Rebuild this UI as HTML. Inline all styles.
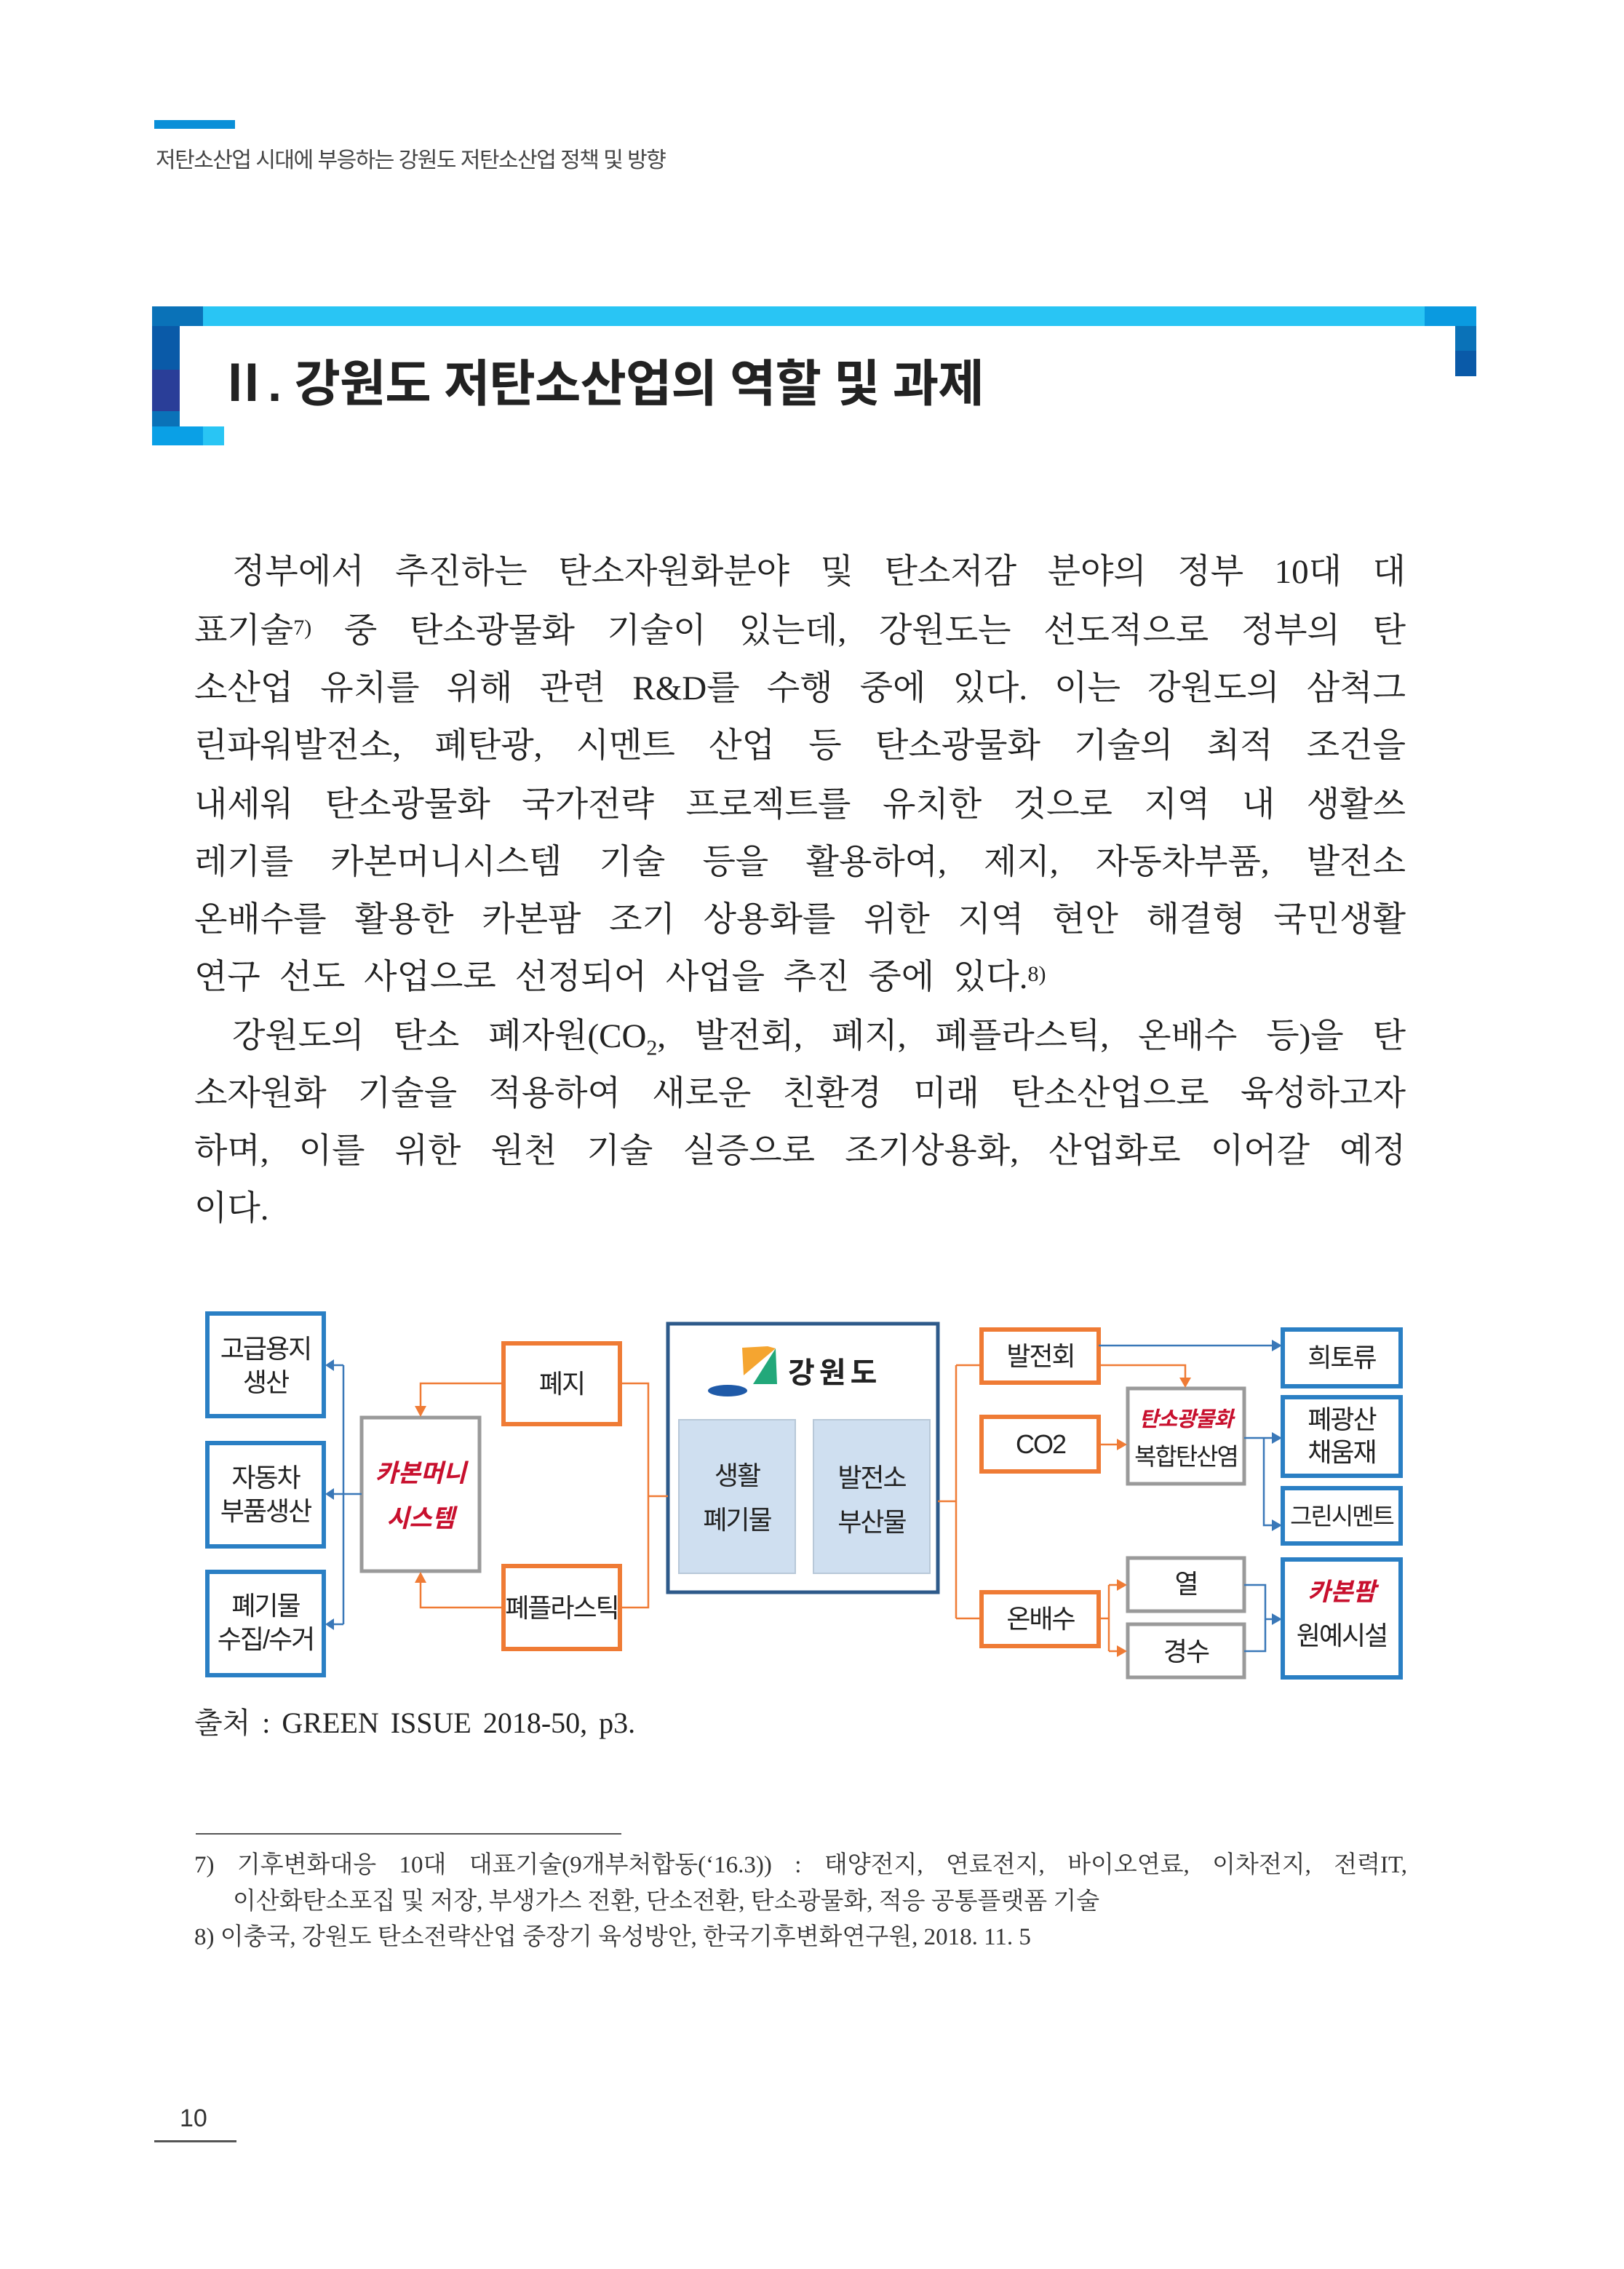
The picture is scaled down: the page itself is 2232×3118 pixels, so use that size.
<!DOCTYPE html>
<html><head><meta charset="utf-8">
<style>
html,body{margin:0;padding:0;background:#fff;}
body{width:2232px;height:3118px;position:relative;overflow:hidden;}
.a{position:absolute;white-space:nowrap;}
.body{font-family:"Liberation Serif","Noto Serif CJK KR","Noto Serif CJK SC",serif;font-size:47px;color:#222;line-height:60px;height:60px;}
.j{left:267px;width:1665px;text-align:justify;text-align-last:justify;}
.sup{font-size:30px;position:relative;top:-10px;line-height:0;}
.fn{font-family:"Liberation Serif","Noto Serif CJK KR","Noto Serif CJK SC",serif;font-size:33px;color:#333;line-height:44px;}
</style></head><body>

<div class="a" style="left:212px;top:165px;width:111px;height:12px;background:#0a8fd8"></div>
<div class="a" style="left:214px;top:195px;font-family:'Liberation Sans','Noto Sans CJK KR',sans-serif;font-size:30px;color:#444;letter-spacing:-1.5px">저탄소산업 시대에 부응하는 강원도 저탄소산업 정책 및 방향</div>

<!-- title frame -->
<div class="a" style="left:209px;top:421px;width:1820px;height:27px;background:#29c5f4"></div>
<div class="a" style="left:209px;top:421px;width:70px;height:27px;background:#0a72b8"></div>
<div class="a" style="left:1958px;top:421px;width:71px;height:27px;background:#0a9ae0"></div>
<div class="a" style="left:209px;top:448px;width:38px;height:60px;background:#0a5aa8"></div>
<div class="a" style="left:209px;top:508px;width:38px;height:57px;background:#2a3e98"></div>
<div class="a" style="left:209px;top:565px;width:38px;height:47px;background:#0a72b8"></div>
<div class="a" style="left:209px;top:586px;width:99px;height:26px;background:#0aa0e6"></div>
<div class="a" style="left:279px;top:586px;width:29px;height:26px;background:#29c5f4"></div>
<div class="a" style="left:2000px;top:448px;width:29px;height:34px;background:#0a72b8"></div>
<div class="a" style="left:2000px;top:482px;width:29px;height:35px;background:#0a5aa8"></div>
<div class="a" style="left:300px;top:471px;font-family:'Liberation Sans','Noto Sans CJK KR',sans-serif;font-weight:bold;font-size:69px;color:#222;letter-spacing:-1px">Ⅱ. 강원도 저탄소산업의 역할 및 과제</div>

<!-- body text -->
<div class="a body" style="left:319px;width:1613px;top:756px;text-align:justify;text-align-last:justify">정부에서 추진하는 탄소자원화분야 및 탄소저감 분야의 정부 10대 대</div>
<div class="a body j" style="top:837px">표기술<span class="sup">7)</span> 중 탄소광물화 기술이 있는데, 강원도는 선도적으로 정부의 탄</div>
<div class="a body j" style="top:916px">소산업 유치를 위해 관련 R&amp;D를 수행 중에 있다. 이는 강원도의 삼척그</div>
<div class="a body j" style="top:995px">린파워발전소, 폐탄광, 시멘트 산업 등 탄소광물화 기술의 최적 조건을</div>
<div class="a body j" style="top:1076px">내세워 탄소광물화 국가전략 프로젝트를 유치한 것으로 지역 내 생활쓰</div>
<div class="a body j" style="top:1155px">레기를 카본머니시스템 기술 등을 활용하여, 제지, 자동차부품, 발전소</div>
<div class="a body j" style="top:1234px">온배수를 활용한 카본팜 조기 상용화를 위한 지역 현안 해결형 국민생활</div>
<div class="a body" style="left:267px;top:1313px;word-spacing:14px">연구 선도 사업으로 선정되어 사업을 추진 중에 있다.<span class="sup">8)</span></div>
<div class="a body" style="left:319px;width:1613px;top:1394px;text-align:justify;text-align-last:justify">강원도의 탄소 폐자원(CO<sub style="font-size:30px;line-height:0">2</sub>, 발전회, 폐지, 폐플라스틱, 온배수 등)을 탄</div>
<div class="a body j" style="top:1473px">소자원화 기술을 적용하여 새로운 친환경 미래 탄소산업으로 육성하고자</div>
<div class="a body j" style="top:1552px">하며, 이를 위한 원천 기술 실증으로 조기상용화, 산업화로 이어갈 예정</div>
<div class="a body" style="left:267px;top:1631px">이다.</div>

<!-- diagram -->
<svg class="a" style="left:0;top:0" width="2232" height="3118" viewBox="0 0 2232 3118" font-family="Liberation Sans, Noto Sans CJK KR, sans-serif">
<g fill="none" stroke-width="6">
 <rect x="285" y="1805" width="160" height="141" stroke="#2a7fc4"/>
 <rect x="285" y="1983" width="160" height="142" stroke="#2a7fc4"/>
 <rect x="285" y="2160" width="160" height="142" stroke="#2a7fc4"/>
 <rect x="497" y="1948" width="162" height="211" stroke="#9a9a9a" stroke-width="5"/>
 <rect x="692" y="1846" width="160" height="111" stroke="#ef7b35"/>
 <rect x="692" y="2152" width="160" height="114" stroke="#ef7b35"/>
 <rect x="918" y="1819" width="371" height="369" stroke="#2e5a8a" stroke-width="5"/>
 <rect x="1349" y="1827" width="161" height="73" stroke="#ef7b35"/>
 <rect x="1349" y="1947" width="161" height="75" stroke="#ef7b35"/>
 <rect x="1349" y="2188" width="161" height="74" stroke="#ef7b35"/>
 <rect x="1550" y="1908" width="160" height="131" stroke="#9a9a9a" stroke-width="5"/>
 <rect x="1550" y="2141" width="160" height="73" stroke="#9a9a9a" stroke-width="5"/>
 <rect x="1550" y="2232" width="160" height="73" stroke="#9a9a9a" stroke-width="5"/>
 <rect x="1763" y="1827" width="162" height="78" stroke="#2a7fc4"/>
 <rect x="1763" y="1920" width="162" height="108" stroke="#2a7fc4"/>
 <rect x="1763" y="2045" width="162" height="76" stroke="#2a7fc4"/>
 <rect x="1763" y="2143" width="162" height="162" stroke="#2a7fc4"/>
</g>
<rect x="933" y="1951" width="160" height="211" fill="#cfdff0" stroke="#b8c8d8" stroke-width="2"/>
<rect x="1118" y="1951" width="160" height="211" fill="#cfdff0" stroke="#b8c8d8" stroke-width="2"/>
<g fill="none" stroke-width="2.5">
 <path d="M497 2053 H472 M472 1876 V2232 M472 1876 H455 M472 2053 H455 M472 2232 H455" stroke="#3a78b8"/>
 <path d="M692 1901 H578 V1935 M692 2209 H578 V2172" stroke="#ef7b35"/>
 <path d="M852 1901 H891 V2209 H852 M891 2056 H918" stroke="#ef7b35"/>
 <path d="M1289 2063 H1314 M1314 1876 V2224 M1314 1876 H1349 M1314 2224 H1349" stroke="#ef7b35"/>
 <path d="M1510 1849 H1750" stroke="#3a78b8"/>
 <path d="M1510 1876 H1629 V1895" stroke="#ef7b35"/>
 <path d="M1510 1985 H1537" stroke="#ef7b35"/>
 <path d="M1710 1976 H1750 M1737 1976 V2096 H1750" stroke="#3a78b8"/>
 <path d="M1510 2224 H1524 M1524 2178 V2269 M1524 2178 H1537 M1524 2269 H1537" stroke="#ef7b35"/>
 <path d="M1710 2178 H1739 V2269 H1710 M1739 2225 H1750" stroke="#3a78b8"/>
</g>
<g fill="#3a78b8">
 <polygon points="447,1876 459,1868 459,1884"/>
 <polygon points="447,2053 459,2045 459,2061"/>
 <polygon points="447,2232 459,2224 459,2240"/>
 <polygon points="1762,1849 1748,1841 1748,1857"/>
 <polygon points="1762,1976 1748,1968 1748,1984"/>
 <polygon points="1762,2096 1748,2088 1748,2104"/>
 <polygon points="1762,2225 1748,2217 1748,2233"/>
</g>
<g fill="#ef7b35">
 <polygon points="578,1947 570,1932 586,1932"/>
 <polygon points="578,2160 570,2175 586,2175"/>
 <polygon points="1629,1907 1621,1893 1637,1893"/>
 <polygon points="1549,1985 1535,1977 1535,1993"/>
 <polygon points="1549,2178 1535,2170 1535,2186"/>
 <polygon points="1549,2269 1535,2261 1535,2277"/>
</g>
<ellipse cx="1000" cy="1911" rx="27" ry="8" fill="#1f5aa8"/>
<polygon points="1020,1852 1055,1850 1066,1853 1022,1890" fill="#f5a530"/>
<polygon points="1066,1853 1068,1902 1035,1902" fill="#22a87a"/>
<text x="1083" y="1900" font-size="40" font-weight="bold" fill="#222" letter-spacing="6">강원도</text>
<g font-size="36" fill="#222" text-anchor="middle" letter-spacing="-2">
 <text x="365" y="1866">고급용지</text><text x="365" y="1912">생산</text>
 <text x="365" y="2043">자동차</text><text x="365" y="2089">부품생산</text>
 <text x="365" y="2219">폐기물</text><text x="365" y="2265">수집/수거</text>
 <text x="772" y="1914">폐지</text>
 <text x="772" y="2222">폐플라스틱</text>
 <text x="1013" y="2040">생활</text><text x="1013" y="2101">폐기물</text>
 <text x="1198" y="2043">발전소</text><text x="1198" y="2104">부산물</text>
 <text x="1430" y="1876">발전회</text>
 <text x="1430" y="1997">CO2</text>
 <text x="1430" y="2237">온배수</text>
 <text x="1630" y="2013" font-size="33">복합탄산염</text>
 <text x="1630" y="2189">열</text>
 <text x="1630" y="2282">경수</text>
 <text x="1844" y="1878">희토류</text>
 <text x="1844" y="1963">폐광산</text><text x="1844" y="2008">채움재</text>
 <text x="1844" y="2095" font-size="33">그린시멘트</text>
 <text x="1844" y="2260">원예시설</text>
</g>
<g font-size="34" fill="#c8102e" text-anchor="middle" font-style="italic" font-weight="bold">
 <text x="578" y="2036">카본머니</text><text x="578" y="2098">시스템</text>
 <text x="1630" y="1960" font-size="29" letter-spacing="-1">탄소광물화</text>
 <text x="1844" y="2199">카본팜</text>
</g>
</svg>

<div class="a" style="left:267px;top:2336px;font-family:'Liberation Serif','Noto Serif CJK KR',serif;font-size:40px;color:#222;word-spacing:6px">출처 : GREEN ISSUE 2018-50, p3.</div>

<div class="a" style="left:269px;top:2519px;width:585px;height:2px;background:#555"></div>
<div class="a fn" style="left:267px;top:2541px;width:1667px;text-align:justify;text-align-last:justify">7) 기후변화대응 10대 대표기술(9개부처합동(‘16.3)) : 태양전지, 연료전지, 바이오연료, 이차전지, 전력IT,</div>
<div class="a fn" style="left:320px;top:2591px">이산화탄소포집 및 저장, 부생가스 전환, 단소전환, 탄소광물화, 적응 공통플랫폼 기술</div>
<div class="a fn" style="left:267px;top:2640px">8) 이충국, 강원도 탄소전략산업 중장기 육성방안, 한국기후변화연구원, 2018. 11. 5</div>

<div class="a" style="left:247px;top:2892px;font-family:'Liberation Sans',sans-serif;font-size:34px;color:#333">10</div>
<div class="a" style="left:212px;top:2941px;width:113px;height:3px;background:#555"></div>
</body></html>
